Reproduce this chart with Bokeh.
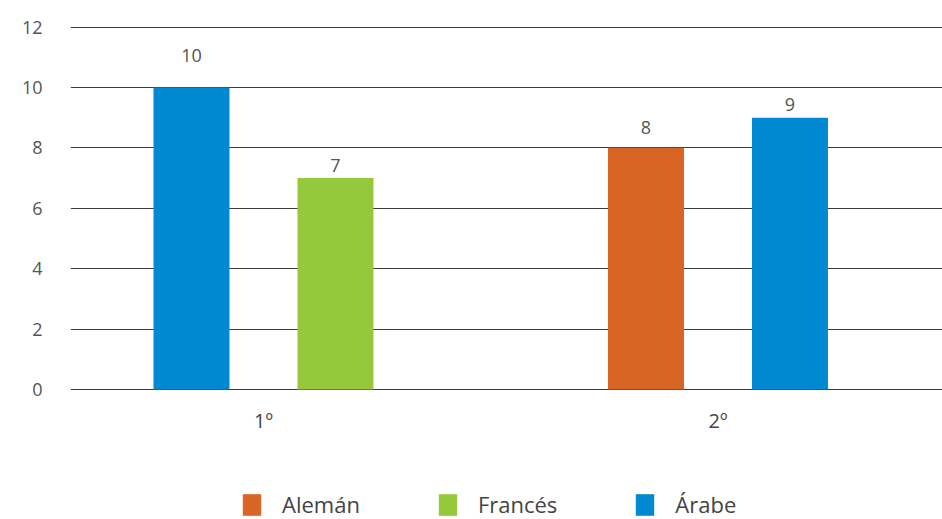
from bokeh.plotting import figure
from bokeh.models import ColumnDataSource, Range1d, FixedTicker, Legend, LegendItem, LabelSet
from bokeh.core.properties import value
from bokeh.embed import file_html
from bokeh.resources import INLINE

# ---- data ----
categories = ["1º", "2º"]
series = ["Alemán", "Francés", "Árabe"]
series_colors = ["#D96524", "#96C83C", "#0088D0"]
bar_category = ["1º", "1º", "2º", "2º"]
bar_series = ["Árabe", "Francés", "Alemán", "Árabe"]
bar_values = [10, 7, 8, 9]
y_ticks = [0, 2, 4, 6, 8, 10, 12]

# ---- style ----
slot_offsets = [-0.1584, 0.1584]
bar_width = 0.1672
label_offsets = [32, 13, 20, 13]
FONT = "Open Sans"

xs, colors = [], []
seen = {}
for cat, ser in zip(bar_category, bar_series):
    k = seen.get(cat, 0)
    seen[cat] = k + 1
    xs.append(categories.index(cat) + 0.5 + slot_offsets[k])
    colors.append(series_colors[series.index(ser)])

src = ColumnDataSource(dict(x=xs, top=bar_values, color=colors, series=bar_series,
                            label=[str(v) for v in bar_values], yoff=label_offsets))
cat_src = ColumnDataSource(dict(x=[i + 0.5 for i in range(len(categories))],
                                y=[0] * len(categories), label=categories))

# frame reaches the bottom edge so the legend (drawn inside it) is not clipped
p = figure(width=942, height=519, output_backend="svg", toolbar_location=None,
           x_axis_location=None,
           x_range=Range1d(0.0754, 1.994), y_range=Range1d(-4.309, 12.02),
           min_border_left=70, min_border_right=0, min_border_top=26, min_border_bottom=0)
p.outline_line_color = None
p.background_fill_color = "white"

bars = p.vbar(x="x", top="top", width=bar_width, bottom=0, color="color",
              line_color=None, source=src)

labels = LabelSet(x="x", y="top", text="label", y_offset="yoff", source=src,
                  text_align="center", text_baseline="middle",
                  text_font=value(FONT), text_font_size="18px", text_color="#555555")
p.add_layout(labels)

cat_labels = LabelSet(x="x", y="y", text="label", y_offset=-31, source=cat_src,
                      text_align="center", text_baseline="middle",
                      text_font=value(FONT), text_font_size="20px", text_color="#444444")
p.add_layout(cat_labels)

p.yaxis.ticker = FixedTicker(ticks=y_ticks)
p.yaxis.axis_line_color = None
p.yaxis.major_tick_line_color = None
p.yaxis.minor_tick_line_color = None
p.yaxis.major_label_standoff = 22
p.yaxis.major_label_text_font = FONT
p.yaxis.major_label_text_font_size = "18px"
p.yaxis.major_label_text_color = "#555555"

p.xgrid.grid_line_color = None
p.ygrid.ticker = FixedTicker(ticks=y_ticks)
p.ygrid.grid_line_color = "#3c3c3c"
p.ygrid.grid_line_width = 1

# legend: each entry points at the first bar of its series
items = [LegendItem(label=s, renderers=[bars], index=bar_series.index(s)) for s in series]

legend = Legend(items=items, orientation="horizontal", location=(170, 0),
                glyph_width=23, glyph_height=27, label_standoff=19, spacing=76,
                padding=0, margin=0, border_line_color=None, background_fill_alpha=0,
                label_text_font=FONT, label_text_font_size="22px", label_text_color="#444444",
                label_height=27)
p.add_layout(legend, "center")

open("out.html", "w").write(file_html(p, INLINE))
